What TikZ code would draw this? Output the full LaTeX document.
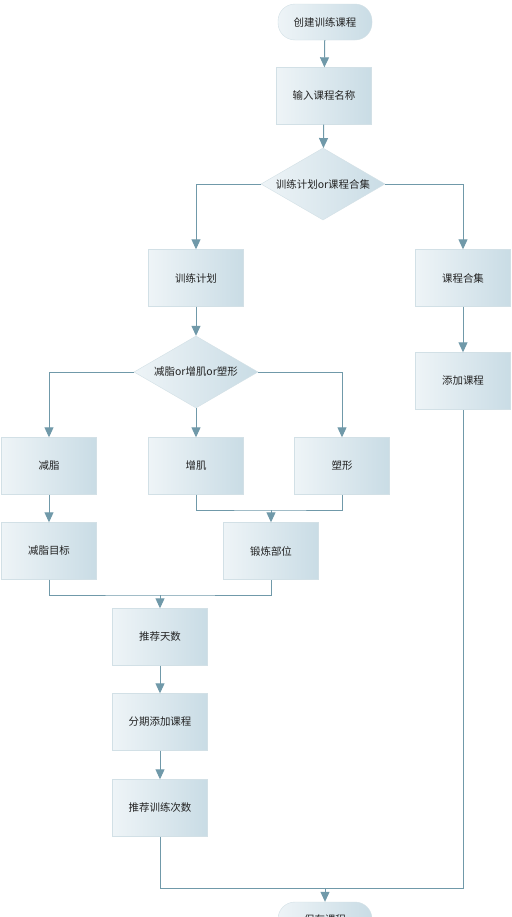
\documentclass[tikz,border=0pt]{standalone}
\usepackage{fontspec}
\newfontfamily\cjk{Noto Sans CJK SC}
\usetikzlibrary{shapes.geometric,arrows.meta}
\definecolor{boxL}{HTML}{EEF4F7}
\definecolor{boxR}{HTML}{C9DCE5}
\definecolor{boxE}{HTML}{D2E0E6}
\definecolor{lineC}{HTML}{7099A9}
\definecolor{txt}{HTML}{222222}
\tikzset{
  base/.style={shade, shading angle=90, left color=boxL, right color=boxR, draw=boxE, line width=0.4bp,
    font=\cjk\fontsize{10.5}{12}\selectfont, text=txt, inner sep=0pt},
  procbox/.style={base, rectangle, minimum width=95bp, minimum height=57bp},
  termbox/.style={base, rectangle, rounded corners=17bp, minimum width=94bp, minimum height=36bp},
  decide/.style={base, diamond, minimum width=124bp, minimum height=72bp, aspect=1.72},
  conn/.style={draw=lineC, line width=1bp},
  arr/.style={conn, -{Triangle[width=9bp,length=10bp]}}
}
\begin{document}
\begin{tikzpicture}[x=1bp,y=1bp]
\clip (0,0) rectangle (512,-917);
\useasboundingbox (0,0) rectangle (512,-917);
\fill[white] (0,0) rectangle (512,-917);
\node[termbox] (start) at (325,-22) {创建训练课程};
\node[procbox] (name) at (324,-96) {输入课程名称};
\node[decide] (d1) at (323,-184) {训练计划or课程合集};
\node[procbox] (plan) at (196,-278) {训练计划};
\node[procbox] (coll) at (463,-278) {课程合集};
\node[procbox] (addc) at (463,-381) {添加课程};
\node[decide] (d2) at (196,-372) {减脂or增肌or塑形};
\node[procbox] (jz) at (49,-466) {减脂};
\node[procbox] (zj) at (196,-466) {增肌};
\node[procbox] (sx) at (342,-466) {塑形};
\node[procbox] (jzmb) at (49,-551) {减脂目标};
\node[procbox] (dlbw) at (271,-551) {锻炼部位};
\node[procbox] (tjts) at (160,-637) {推荐天数};
\node[procbox] (fq) at (160,-722) {分期添加课程};
\node[procbox] (tjcs) at (160,-808) {推荐训练次数};
\node[termbox] (fin) at (325,-920) {保存课程};
\coordinate (m1) at (271,-510);
\coordinate (m2) at (160,-595);
\coordinate (m3) at (325,-888);

\draw[arr] (start) -- (name);
\draw[arr] (name) -- (d1);
\draw[arr] (d1.west) -| (plan.north);
\draw[arr] (d1.east) -| (coll.north);
\draw[arr] (coll) -- (addc);
\draw[arr] (plan) -- (d2);
\draw[arr] (d2.west) -| (jz.north);
\draw[arr] (d2.east) -| (sx.north);
\draw[arr] (d2) -- (zj);
\draw[arr] (jz) -- (jzmb);
\draw[conn] (zj.south) |- (m1) -| (sx.south);
\draw[arr] (m1) -- (dlbw.north);
\draw[conn] (jzmb.south) |- (m2) -| (dlbw.south);
\draw[arr] (m2) -- (tjts.north);
\draw[arr] (tjts) -- (fq);
\draw[arr] (fq) -- (tjcs);
\draw[conn] (tjcs.south) |- (m3) -| (addc.south);
\draw[arr] (m3) -- (fin.north);
\end{tikzpicture}
\end{document}
